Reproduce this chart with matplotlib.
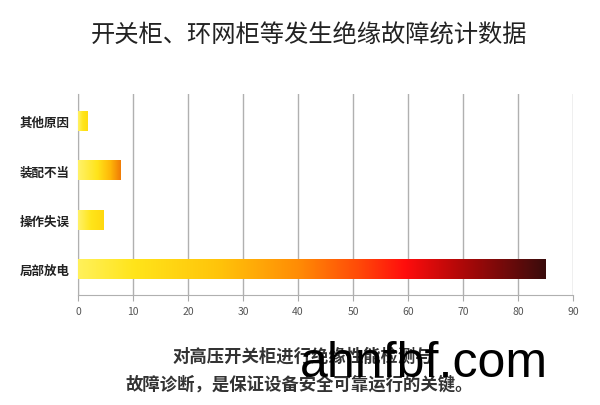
import numpy as np
import matplotlib.pyplot as plt
from matplotlib.colors import LinearSegmentedColormap

plt.rcParams['font.family'] = ['Noto Sans CJK SC', 'DejaVu Sans']

# data
categories = ['局部放电', '操作失误', '装配不当', '其他原因']
values = [85, 4.7, 7.8, 1.8]
xticks = list(range(0, 100, 10))

title = '开关柜、环网柜等发生绝缘故障统计数据'
caption1 = '对高压开关柜进行绝缘性能检测与'
caption2 = '故障诊断，是保证设备安全可靠运行的关键。'
watermark = 'ahnfbf.com'

# gradient for each bar (left -> right)
cmaps = [
    LinearSegmentedColormap.from_list('big', [
        (0.0, '#fff15a'), (0.12, '#ffe41a'), (0.30, '#ffc40a'),
        (0.47, '#ff8c05'), (0.60, '#ff4a08'), (0.70, '#ff0d0d'),
        (0.82, '#b00808'), (1.0, '#3a0c0c')]),
    LinearSegmentedColormap.from_list('s1', ['#fff26a', '#ffe51a', '#ffd80e']),
    LinearSegmentedColormap.from_list('s2', [(0.0, '#fff26a'), (0.45, '#ffe41a'),
                                             (0.75, '#ffb808'), (1.0, '#f07a06')]),
    LinearSegmentedColormap.from_list('s3', ['#fff26a', '#ffe51a', '#ffdc10']),
]

fig = plt.figure(figsize=(6, 4.06), dpi=100)
ax = fig.add_axes([0.13, 0.271, 0.825, 0.495])

ypos = np.arange(len(categories))
bars = ax.barh(ypos, values, height=0.41, color='none', edgecolor='none', zorder=3)

grad = np.linspace(0, 1, 256).reshape(1, -1)
for bar, cm in zip(bars, cmaps):
    x0, y0 = bar.get_x(), bar.get_y()
    w, h = bar.get_width(), bar.get_height()
    im = ax.imshow(grad, cmap=cm, aspect='auto', extent=[x0, x0 + w, y0, y0 + h],
                   interpolation='bicubic', zorder=3)
    im.set_clip_path(bar)

ax.set_xlim(0, 90)
ax.set_ylim(-0.53, 3.55)
ax.set_xticks(xticks)
ax.set_yticks(ypos)
ax.set_yticklabels(categories, fontsize=9, fontweight='bold', color='#222222')
ax.tick_params(axis='y', length=0, pad=6)
ax.tick_params(axis='x', length=4, color='#aaaaaa', labelsize=7.5,
               labelcolor='#555555', pad=4)

ax.grid(axis='x', color='#b0b0b0', linewidth=1, zorder=0)
for side in ['top', 'right']:
    ax.spines[side].set_visible(False)
ax.spines['left'].set_color('#b0b0b0')
ax.spines['bottom'].set_color('#b0b0b0')

fig.text(0.515, 0.912, title, ha='center', va='center', fontsize=17.5, color='#222222')
fig.text(0.505, 0.121, caption1, ha='center', va='center', fontsize=12.5,
         fontweight='bold', color='#333333')
fig.text(0.498, 0.052, caption2, ha='center', va='center', fontsize=12.5,
         fontweight='bold', color='#333333')
fig.text(0.5, 0.072, watermark, ha='left', va='baseline', fontsize=36,
         family=['Liberation Sans', 'DejaVu Sans'], color='black')

fig.savefig('out.png', dpi=100, facecolor='white')
